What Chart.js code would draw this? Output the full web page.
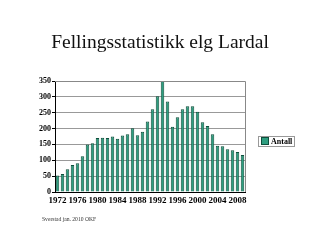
<!DOCTYPE html>
<html>
<head>
<meta charset="utf-8">
<script src="https://cdn.jsdelivr.net/npm/chart.js@4"></script>
<style>
  html, body { margin: 0; padding: 0; background: #fff; }
  #wrap { position: relative; width: 320px; height: 240px; overflow: hidden; }
  #chart { position: absolute; left: 0; top: 0; }
  #title { position: absolute; left: 0; width: 320px; top: 31px; text-align: center;
           font-family: "Liberation Serif", serif; font-size: 19.5px; color: #111; }
  #legend { position: absolute; left: 258px; top: 136px; border: 1px solid #999; padding: 0 2px;
            font-family: "Liberation Serif", serif; font-weight: bold; font-size: 8px; line-height: 9px; }
  #legend span.sw { display: inline-block; width: 6px; height: 6px; background: #2e9e80;
                    border: 1px solid #0f4f3c; margin-right: 2px; vertical-align: -1px; }
  #note { position: absolute; left: 42px; top: 216px; font-family: "Liberation Serif", serif;
          font-size: 5.6px; color: #333; }
</style>
</head>
<body>
<div id="wrap">
  <canvas id="chart" width="320" height="240"></canvas>
  <div id="title">Fellingsstatistikk elg Lardal</div>
  <div id="legend"><span class="sw"></span>Antall</div>
  <div id="note">Sverstad jan. 2010 OKF</div>
</div>
<script>
// --- data ---
const years = [1972, 1973, 1974, 1975, 1976, 1977, 1978, 1979, 1980, 1981,
               1982, 1983, 1984, 1985, 1986, 1987, 1988, 1989, 1990, 1991,
               1992, 1993, 1994, 1995, 1996, 1997, 1998, 1999, 2000, 2001,
               2002, 2003, 2004, 2005, 2006, 2007, 2008, 2009];
const antall = [52, 57, 72, 85, 91, 113, 150, 154, 170, 171,
                170, 175, 168, 178, 182, 201, 179, 190, 222, 261,
                302, 350, 285, 206, 236, 261, 270, 270, 253, 220,
                208, 182, 146, 144, 135, 132, 126, 117];
const yTicks = [0, 50, 100, 150, 200, 250, 300, 350];

const serif = '"Liberation Serif", "Times New Roman", serif';

// frame round the plot area
const frame = {
    id: 'frame',
    afterDraw(chart) {
        const a = chart.chartArea, ctx = chart.ctx;
        ctx.save();
        ctx.strokeStyle = '#888';
        ctx.lineWidth = 1;
        ctx.beginPath();
        ctx.moveTo(a.left, a.top + 0.5);
        ctx.lineTo(a.right + 0.5, a.top + 0.5);
        ctx.lineTo(a.right + 0.5, a.bottom);
        ctx.stroke();
        ctx.restore();
    }
};

new Chart(document.getElementById('chart'), {
    type: 'bar',
    data: {
        labels: years.map(String),
        datasets: [{
            label: 'Antall',
            data: antall,
            backgroundColor: '#2e9e80',
            borderColor: '#0f4f3c',
            borderWidth: 1,
            barPercentage: 0.7,
            categoryPercentage: 1
        }]
    },
    options: {
        responsive: false,
        animation: false,
        layout: { padding: { top: 81, right: 75, bottom: 0, left: 0 } },
        plugins: { legend: { display: false }, tooltip: { enabled: false } },
        scales: {
            x: {
                afterFit: (s) => { s.height = 48; },
                grid: { display: false, drawTicks: false },
                border: { color: '#000' },
                ticks: {
                    autoSkip: false, maxRotation: 0, minRotation: 0, padding: 3,
                    color: '#000',
                    font: { family: serif, size: 9, weight: 'bold' },
                    callback: (v, i) => (i % 4 === 0 ? years[i] : '')
                }
            },
            y: {
                min: 0, max: 350,
                afterFit: (s) => { s.width = 55; },
                afterBuildTicks: (s) => { s.ticks = yTicks.map(v => ({ value: v })); },
                grid: { color: '#999', tickColor: '#000', tickLength: 3 },
                border: { color: '#000' },
                ticks: {
                    color: '#000', padding: 1,
                    font: { family: serif, size: 8, weight: 'bold' }
                }
            }
        }
    },
    plugins: [frame]
});
</script>
</body>
</html>
